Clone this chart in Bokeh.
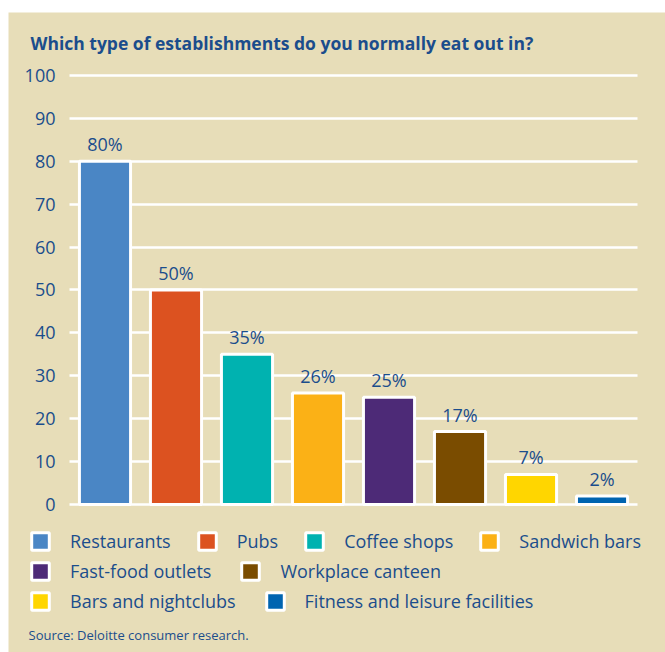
from bokeh.plotting import figure
from bokeh.models import (Range1d, FixedTicker, Label, LabelSet, Legend,
                          LegendItem, ColumnDataSource, Grid)
from bokeh.core.properties import value
from bokeh.embed import file_html
from bokeh.resources import INLINE

# ---- data ----
categories = ["Restaurants", "Pubs", "Coffee shops", "Sandwich bars",
              "Fast-food outlets", "Workplace canteen", "Bars and nightclubs",
              "Fitness and leisure facilities"]
values = [80, 50, 35, 26, 25, 17, 7, 2]
colors = ["#4a86c5", "#dc5220", "#00b2b0", "#fbb116",
          "#4d2a77", "#7a4c00", "#ffd600", "#0064b0"]
y_ticks = [0, 10, 20, 30, 40, 50, 60, 70, 80, 90, 100]
title_text = "Which type of establishments do you normally eat out in?"
source_text = "Source: Deloitte consumer research."
legend_rows = [[0, 1, 2, 3], [4, 5], [6, 7]]

BG = "#e7ddb8"
TXT = "#1b4d8c"
FONT = "Open Sans"
N = len(categories)

# bar slot i occupies [i, i+1] on the x scale
src = ColumnDataSource(dict(x=[i + 0.5 for i in range(N)], cat=categories, val=values,
                            color=colors, lab=[f"{v}%" for v in values]))

p = figure(x_range=Range1d(-0.859, N + 0.394), y_range=Range1d(-34.5, 114.685),
           x_axis_location=None, frame_width=657, frame_height=640,
           output_backend="svg", toolbar_location=None, min_border=0)
p.margin = (12, 0, 0, 8)
p.background_fill_color = BG
p.border_fill_color = BG
p.outline_line_color = None

# grid: white lines at the y ticks, spanning the bar slots only
p.xgrid.grid_line_color = None
yg = p.ygrid[0]
yg.ticker = FixedTicker(ticks=y_ticks)
yg.grid_line_color = "white"
yg.grid_line_width = 2.5
if "cross_bounds" in Grid.properties():
    yg.cross_bounds = (0, N)
else:
    yg.grid_line_color = None
    p.segment(x0=0, x1=N, y0=y_ticks, y1=y_ticks, line_color="white", line_width=2.5,
              level="underlay")

# y axis drawn at the left edge of the first bar slot
p.yaxis.fixed_location = 0
p.yaxis.ticker = FixedTicker(ticks=y_ticks)
p.yaxis.axis_line_color = None
p.yaxis.major_tick_line_color = None
p.yaxis.minor_tick_line_color = None
p.yaxis.major_tick_out = 0
p.yaxis.major_tick_in = 0
p.yaxis.major_label_standoff = 14
p.yaxis.major_label_text_font = FONT
p.yaxis.major_label_text_font_size = "18px"
p.yaxis.major_label_text_color = TXT

bars = p.vbar(x="x", top="val", width=0.72, source=src, fill_color="color",
              line_color="white", line_width=3)

p.add_layout(LabelSet(x="x", y="val", text="lab", source=src, text_align="center",
                      text_baseline="alphabetic", y_offset=10, text_color=TXT,
                      text_font=value(FONT), text_font_size=value("18px")))

# title and source note (screen px from the bottom-left of the panel)
p.add_layout(Label(x=22, y=610, x_units="screen", y_units="screen", text=title_text,
                   text_font=FONT, text_font_size="17.5px", text_font_style="bold",
                   text_color=TXT, text_baseline="alphabetic"))
p.add_layout(Label(x=20, y=18, x_units="screen", y_units="screen", text=source_text,
                   text_font=FONT, text_font_size="13px",
                   text_color=TXT, text_baseline="alphabetic"))

# legend rows
row_spacing = [25, 28, 28]
for r, row in enumerate(legend_rows):
    items = [LegendItem(label=categories[i], renderers=[bars], index=i) for i in row]
    lg = Legend(items=items, orientation="horizontal", location=(21, 99 - 30 * r),
                padding=0, margin=0, spacing=row_spacing[r], label_standoff=19,
                glyph_width=22, glyph_height=22, label_height=22,
                label_text_font=FONT, label_text_font_size="18px",
                label_text_color=TXT, background_fill_alpha=0, border_line_alpha=0)
    p.add_layout(lg, "center")

open("out.html", "w").write(file_html(p, INLINE))
